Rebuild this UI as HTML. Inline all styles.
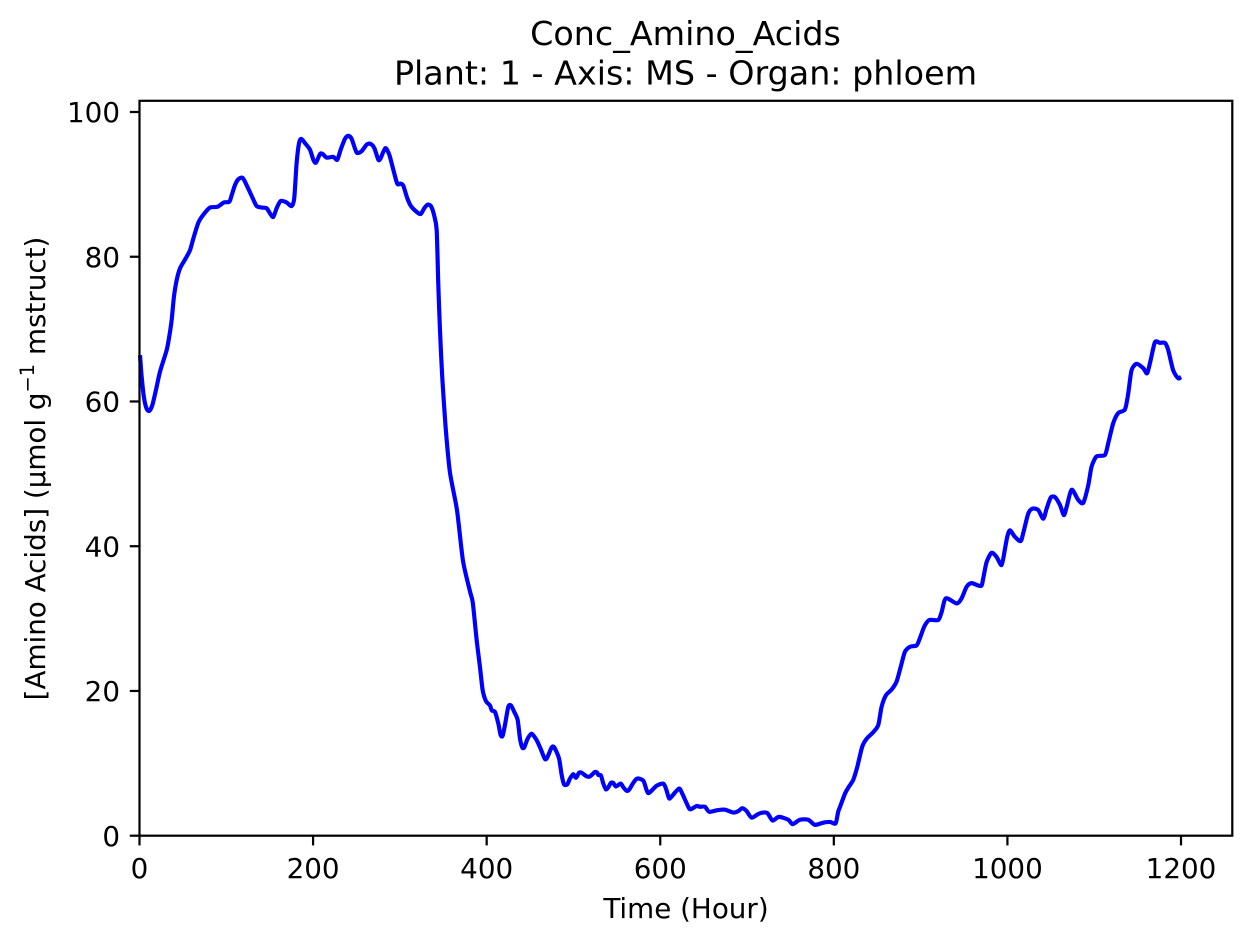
<!DOCTYPE html>
<html lang="en">
<head>
<meta charset="utf-8">
<title>Conc_Amino_Acids</title>
<style>
  html, body { margin: 0; padding: 0; background: #fff; }
  svg { display: block; }
  text { font-family: "DejaVu Sans", "Liberation Sans", sans-serif; fill: #000; }
</style>
</head>
<body>
<svg id="chart" xmlns="http://www.w3.org/2000/svg" width="1252" height="943" viewBox="0 0 1252 943">
  <rect x="0" y="0" width="1252" height="943" fill="#fff"/>
  <rect x="139.5" y="100.8" width="1092.8" height="734.9" fill="#fff"/>
  <g id="series-layer"></g>
  <rect x="139.5" y="100.8" width="1092.8" height="734.9" fill="none" stroke="#000" stroke-width="2.22"/>
  <g id="x-ticks"></g>
  <g id="y-ticks"></g>
  <text x="685.5" y="45" font-size="33.33" text-anchor="middle">Conc_Amino_Acids</text>
  <text x="685.5" y="84.5" font-size="33.33" text-anchor="middle">Plant: 1 - Axis: MS - Organ: phloem</text>
  <text x="686" y="918" font-size="27.78" text-anchor="middle">Time (Hour)</text>
  <text transform="translate(45,468.5) rotate(-90)" font-size="27.78" text-anchor="middle">[Amino Acids] (µmol g<tspan dy="-11" font-size="19.4">−1</tspan><tspan dy="11"> mstruct)</tspan></text>
</svg>
<script>
const hours = [0.6,2.5,5.2,8.2,11.3,14.8,19,23.6,31.3,34.3,37.1,39.7,42.9,46.7,52.4,58.2,62,67.8,73.5,81.2,89.7,97.3,103.5,106.2,110,113.8,118.9,124.2,130.4,135,140.7,146.5,150.3,154.2,158,162.6,169.5,175.3,178.3,181,183.8,186.4,190.7,196.4,200.3,203.3,208,211,215.7,223.3,227.9,231.8,236.8,240.6,244.4,250.2,256,261.7,266.3,270.6,275.2,277.8,283.2,287.8,292.5,297,301,304,308.5,312.8,319.3,324,328.1,332,335.8,339.3,342.4,344.2,346.2,348.8,352.8,357.7,365.8,372.7,380.7,384,388.5,392.3,395.4,399.2,403.8,406,409.6,413.4,416.1,418.4,421.1,424.9,428,431.8,435.7,438.4,441,443.3,447.2,451.8,457.6,462.2,467.1,469.8,474.9,477.9,483.3,486.4,489.1,492.9,496,499.8,502.9,506.4,509.4,515.2,519,524.8,527.4,528.6,531.7,534.4,537.4,540.2,543.2,545.8,548.9,554.4,557.4,561.3,564.4,568.9,573.5,580.5,584.3,587,595.8,603.5,606.6,610,612.3,621.5,625.4,633.1,636.1,641.9,645.7,651.5,656.4,664.9,674.5,684,689.9,694.5,699.5,705.2,712.9,718.7,723.7,729.4,736.7,747.5,752.5,761,770.5,778.2,787.8,795.5,802,805,807.5,812.8,817,822.3,827,832.7,837.8,845.4,851.2,855,860,866.6,872.3,877,881.9,887.7,895.4,899.2,904.2,910,920.3,924.2,929.1,941.5,947.2,953,958.8,969.5,972.2,976,981.8,987.6,993.3,997,999.8,1002.9,1008.6,1015.2,1018.2,1024,1029,1035.5,1041.3,1045.2,1049.8,1054.7,1060.5,1065,1068.2,1074,1081.6,1087.4,1093.1,1097,1102.7,1112.3,1116.1,1121.9,1127.7,1135.4,1139.2,1143,1148.9,1156.5,1161,1165,1170,1175.6,1181.5,1185.3,1191,1196.8,1200];
const aminoAcids = [66.4,63.4,60.5,59.0,58.7,59.5,61.6,64.1,67.1,69,71.3,74.5,76.8,78.4,79.6,80.9,82.5,84.7,85.8,86.8,86.9,87.5,87.6,88.5,89.9,90.7,90.9,89.7,88.1,87,86.8,86.7,86,85.5,86.7,87.7,87.5,87,88.1,92.9,95.7,96.3,95.7,94.8,93.4,93,94.2,94.2,93.7,93.8,93.4,94.8,96.3,96.7,96.3,94.4,94.6,95.5,95.6,95,93.4,93.6,95,94.1,92,90.1,90.1,89.8,88.1,87,86.2,85.9,86.7,87.2,87,85.8,83.7,76.4,69.9,63.4,56.3,50.2,45,38,33.8,32.2,27,23.3,20.1,18.6,18,17.3,17.1,15.5,13.9,13.8,15.3,17.8,18,17.1,16,13.4,12.2,12.2,13.4,14.1,13.2,12,10.6,10.8,12.2,12.2,10.7,8.4,7.1,7.1,7.9,8.5,8,8.7,8.7,8.2,8.2,8.8,8.7,8.4,8.3,7.2,6.4,6.7,7.3,7.3,6.8,7.2,6.7,6.2,6.4,7.3,7.9,7.6,6.3,5.9,6.9,7.2,6.5,5.2,5.3,6.5,5.8,3.8,3.7,4.1,4,4,3.3,3.5,3.6,3.2,3.4,3.8,3.4,2.5,3,3.2,3.1,2.1,2.6,2.2,1.6,2.2,2.2,1.5,1.8,1.9,1.7,3.3,4.1,5.8,6.7,7.7,9.5,12.3,13.4,14.3,15.3,17.8,19.4,20.2,21.3,23.3,25.4,26.1,26.3,27.3,28.9,29.8,29.8,30.9,32.8,32.1,32.8,34.4,34.9,34.5,35.6,37.8,39.1,38.5,37.4,39.5,41.3,42.2,41.3,40.7,41.8,44.5,45.2,45,43.8,45.2,46.7,46.8,45.7,44.3,45.4,47.8,46.4,46,48.4,51,52.4,52.6,54.2,57,58.4,58.9,61.1,64.3,65.2,64.6,63.9,65.7,68.2,68.1,68.1,67.1,64.3,63.2,63.4];
const xTickValues = [0,200,400,600,800,1000,1200];
const yTickValues = [0,20,40,60,80,100];

const svgNS = 'http://www.w3.org/2000/svg';
function xScale(h) { return 139.5 + h * (1181 - 139.5) / 1200; }
function yScale(v) { return 835.7 - v * (835.7 - 112) / 100; }

function smoothPath(xs, ys) {
  const k = 1 / 8;
  let d = 'M' + xs[0].toFixed(2) + ' ' + ys[0].toFixed(2);
  for (let i = 0; i < xs.length - 1; i++) {
    const a = Math.max(i - 1, 0);
    const b = Math.min(i + 2, xs.length - 1);
    const c1x = xs[i] + (xs[i + 1] - xs[a]) * k;
    const c1y = ys[i] + (ys[i + 1] - ys[a]) * k;
    const c2x = xs[i + 1] - (xs[b] - xs[i]) * k;
    const c2y = ys[i + 1] - (ys[b] - ys[i]) * k;
    d += 'C' + c1x.toFixed(2) + ' ' + c1y.toFixed(2) + ' ' + c2x.toFixed(2) + ' ' + c2y.toFixed(2) + ' ' + xs[i + 1].toFixed(2) + ' ' + ys[i + 1].toFixed(2);
  }
  return d;
}

const seriesLayer = document.getElementById('series-layer');
const line = document.createElementNS(svgNS, 'path');


line.setAttribute('fill', 'none');
line.setAttribute('stroke', '#0000ff');
line.setAttribute('stroke-width', '4.17');
line.setAttribute('stroke-linejoin', 'round');
line.setAttribute('stroke-linecap', 'butt');
line.setAttribute('d', smoothPath(hours.map(xScale), aminoAcids.map(yScale)));
seriesLayer.appendChild(line);

const xTicks = document.getElementById('x-ticks');
xTickValues.forEach(function (value) {
  const mark = document.createElementNS(svgNS, 'line');
  
  
  mark.setAttribute('x1', xScale(value));
  mark.setAttribute('x2', xScale(value));
  mark.setAttribute('y1', 835.7);
  mark.setAttribute('y2', 845.4);
  mark.setAttribute('stroke', '#000');
  mark.setAttribute('stroke-width', '2.22');
  xTicks.appendChild(mark);
  const label = document.createElementNS(svgNS, 'text');
  
  
  label.setAttribute('x', xScale(value));
  label.setAttribute('y', 878);
  label.setAttribute('font-size', '27.78');
  label.setAttribute('text-anchor', 'middle');
  label.textContent = value;
  xTicks.appendChild(label);
});

const yTicks = document.getElementById('y-ticks');
yTickValues.forEach(function (value) {
  const mark = document.createElementNS(svgNS, 'line');
  
  
  mark.setAttribute('x1', 129.8);
  mark.setAttribute('x2', 139.5);
  mark.setAttribute('y1', yScale(value));
  mark.setAttribute('y2', yScale(value));
  mark.setAttribute('stroke', '#000');
  mark.setAttribute('stroke-width', '2.22');
  yTicks.appendChild(mark);
  const label = document.createElementNS(svgNS, 'text');
  
  
  label.setAttribute('x', 120);
  label.setAttribute('y', yScale(value) + 10.2);
  label.setAttribute('font-size', '27.78');
  label.setAttribute('text-anchor', 'end');
  label.textContent = value;
  yTicks.appendChild(label);
});
</script>
</body>
</html>
